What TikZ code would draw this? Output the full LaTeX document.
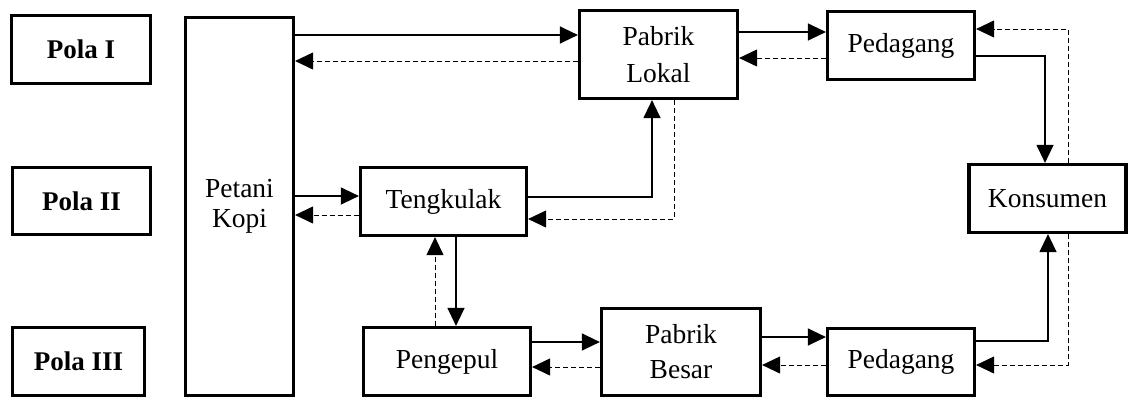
\documentclass[tikz,border=0pt]{standalone}
\usepackage{fontspec}
\setmainfont{Liberation Serif}
\usetikzlibrary{arrows.meta}
\begin{document}
\begin{tikzpicture}[x=1pt,y=-1pt,
  box/.style={draw,line width=3.2pt,inner sep=0pt,align=center,
    font=\fontsize{27.5}{30}\selectfont},
  polabox/.style={box,font=\fontsize{27}{30}\selectfont\bfseries},
  flow/.style={line width=1.3pt,-{Triangle[length=18pt,width=17pt]}},
  back/.style={line width=1pt,dash pattern=on 5pt off 3pt,-{Triangle[length=18pt,width=17pt]}}]
\useasboundingbox (0,0) rectangle (1129,399);

% pattern labels
\node[polabox,minimum width=139pt,minimum height=68pt] (p1) at (81,49.5) {Pola I};
\node[polabox,minimum width=138pt,minimum height=67pt] (p2) at (81.5,201) {Pola II};
\node[polabox,minimum width=132pt,minimum height=68pt] (p3) at (78.5,361.5) {Pola III};

% actors
\node[box,minimum width=108pt,minimum height=378pt] (pk) at (239.5,206.5) {Petani\\Kopi};
\node[box,minimum width=158pt,minimum height=88pt,font=\fontsize{27.5}{37}\selectfont] (pl) at (658.5,54.5) {Pabrik\\Lokal};
\node[box,minimum width=147pt,minimum height=68pt] (pd1) at (901,45.5) {Pedagang};
\node[box,minimum width=157pt,minimum height=68pt] (ks) at (1047.5,198.5) {Konsumen};
\node[box,minimum width=166pt,minimum height=68pt] (tk) at (443.5,201.5) {Tengkulak};
\node[box,minimum width=167pt,minimum height=68pt] (pg) at (447,361.5) {Pengepul};
\node[box,minimum width=159pt,minimum height=87pt,font=\fontsize{27.5}{35}\selectfont] (pb) at (681,352) {Pabrik\\Besar};
\node[box,minimum width=147pt,minimum height=67pt] (pd2) at (901,362) {Pedagang};

% pattern I
\draw[flow] (pk.east |- 0,35) -- (pl.west |- 0,35);
\draw[back] (pl.west |- 0,61) -- (pk.east |- 0,61);
\draw[flow] (pl.east |- 0,32) -- (pd1.west |- 0,32);
\draw[back] (pd1.west |- 0,58) -- (pl.east |- 0,58);
\draw[flow] (pd1.east |- 0,56) -| (ks.north -| 1045,0);
\draw[back] (ks.north -| 1068,0) |- (pd1.east |- 0,29);

% pattern II
\draw[flow] (pk.east |- 0,196) -- (tk.west |- 0,196);
\draw[back] (tk.west |- 0,215) -- (pk.east |- 0,215);
\draw[flow] (tk.east |- 0,197) -| (pl.south -| 652,0);
\draw[back] (pl.south -| 674,0) |- (tk.east |- 0,219);

% pattern III
\draw[flow] (tk.south -| 456,0) -- (pg.north -| 456,0);
\draw[back] (pg.north -| 435,0) -- (tk.south -| 435,0);
\draw[flow] (pg.east |- 0,342) -- (pb.west |- 0,342);
\draw[back] (pb.west |- 0,367) -- (pg.east |- 0,367);
\draw[flow] (pb.east |- 0,337) -- (pd2.west |- 0,337);
\draw[back] (pd2.west |- 0,365) -- (pb.east |- 0,365);
\draw[flow] (pd2.east |- 0,341) -| (ks.south -| 1048,0);
\draw[back] (ks.south -| 1068,0) |- (pd2.east |- 0,365);
\end{tikzpicture}
\end{document}
